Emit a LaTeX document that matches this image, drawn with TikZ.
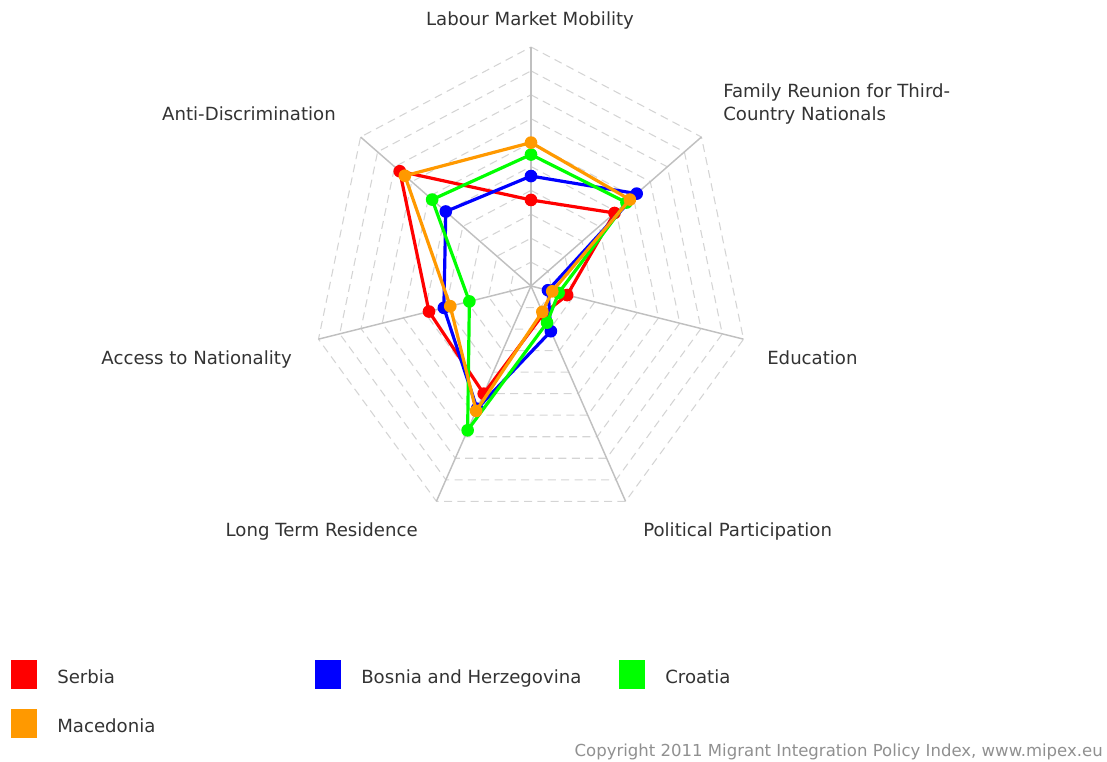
\documentclass[tikz,border=0pt]{standalone}
\usepackage{fontspec}
\setmainfont{DejaVu Sans}
\definecolor{sred}{HTML}{FF0000}
\definecolor{sblue}{HTML}{0000FF}
\definecolor{sgreen}{HTML}{00FF00}
\definecolor{sorange}{HTML}{FF9900}
\definecolor{gridc}{HTML}{D4D4D4}
\definecolor{axisc}{HTML}{C0C0C0}
\definecolor{txt}{HTML}{333333}
\definecolor{copyc}{HTML}{909090}
\begin{document}
\begin{tikzpicture}[x=0.75pt,y=-0.75pt,
  lab/.style={font=\fontsize{13.6}{16}\selectfont, text=txt, inner sep=0pt},
  gridline/.style={draw=gridc, line width=0.8pt, dash pattern=on 6pt off 4pt},
  axisline/.style={draw=axisc, line width=1.1pt},
  serie/.style={line width=2.4pt, line join=round},
  dot/.style={circle, fill=#1, inner sep=0pt, minimum size=9.5pt},
  legbox/.style={fill=#1, inner sep=0pt, minimum width=19.5pt, minimum height=21.75pt},
  copytext/.style={font=\fontsize{12.4}{14}\selectfont, text=copyc, inner sep=0pt}]
\useasboundingbox (0,0) rectangle (1107,761);
\coordinate (C) at (531,286);
\begin{scope}[shift={(C)}, x=1.635pt, y=1.7925pt]
  \foreach \r in {10,20,...,100}{
    \draw[gridline] (90:\r) -- (38.571:\r) -- (-12.857:\r) -- (-64.286:\r) -- (-115.714:\r) -- (-167.143:\r) -- (141.429:\r) -- cycle;
  }
  \foreach \k in {0,...,6}{
    \coordinate (ax\k) at ({90-\k*360/7}:100);
    \draw[axisline] (C) -- (ax\k);
  }
  \foreach \nm/\col/\vals in {s/sred/{36,49,17,13,50,48,77},
                              b/sblue/{46,62,8,21,57,41,50},
                              c/sgreen/{55,56,13,17,67,29,58},
                              m/sorange/{60,58,10,12,58,38,74}}{
    \foreach \v [count=\i from 0] in \vals {
      \coordinate (\nm\i) at ({90-\i*360/7}:\v);
    }
    \draw[serie, draw=\col] (\nm0) -- (\nm1) -- (\nm2) -- (\nm3) -- (\nm4) -- (\nm5) -- (\nm6) -- cycle;
    \foreach \i in {0,...,6}{
      \node[dot=\col] (\nm d\i) at (\nm\i) {};
    }
  }
\end{scope}
% axis labels
\node[lab, anchor=base] (l0) at (530,25) {Labour Market Mobility};
\node[lab, anchor=base west] (l1a) at (723,97.5) {Family Reunion for Third-};
\node[lab, anchor=base west] (l1b) at (723,120.5) {Country Nationals};
\node[lab, anchor=base west] (l2) at (767,364.5) {Education};
\node[lab, anchor=base west] (l3) at (643,536.5) {Political Participation};
\node[lab, anchor=base east] (l4) at (418,536.5) {Long Term Residence};
\node[lab, anchor=base east] (l5) at (292,364.5) {Access to Nationality};
\node[lab, anchor=base east] (l6) at (336,120.5) {Anti-Discrimination};
% legend
\node[legbox=sred] (k1) at (24,674.5) {};
\node[lab, anchor=base west] (t1) at (57,683.5) {Serbia};
\node[legbox=sblue] (k2) at (327.5,674.5) {};
\node[lab, anchor=base west] (t2) at (361,683.5) {Bosnia and Herzegovina};
\node[legbox=sgreen] (k3) at (632,674.5) {};
\node[lab, anchor=base west] (t3) at (665,683.5) {Croatia};
\node[legbox=sorange] (k4) at (24,723.5) {};
\node[lab, anchor=base west] (t4) at (57,732.5) {Macedonia};
\node[copytext, anchor=base east] (cp) at (1103,756) {Copyright 2011 Migrant Integration Policy Index, www.mipex.eu};
\end{tikzpicture}
\end{document}
